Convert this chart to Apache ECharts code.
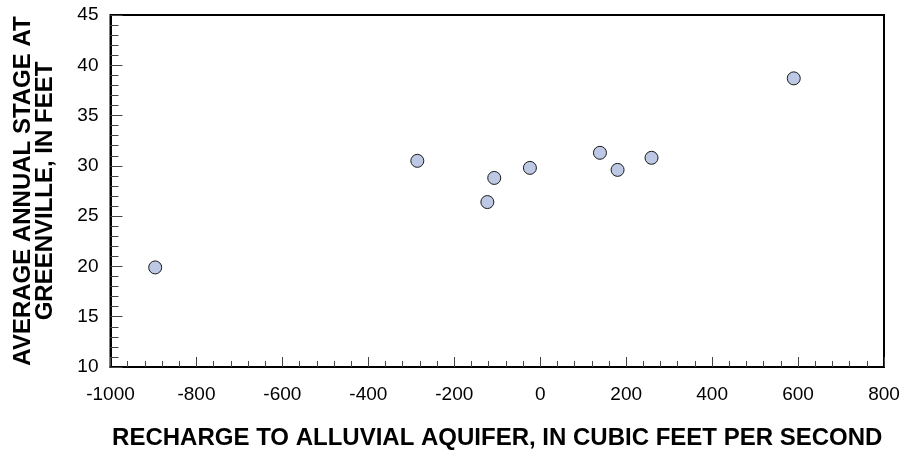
<!DOCTYPE html>
<html>
<head>
<meta charset="utf-8">
<script src="https://cdn.jsdelivr.net/npm/echarts@6/dist/echarts.min.js"></script>
<style>
html,body{margin:0;padding:0;background:#fff;}
#c{width:907px;height:455px;}
</style>
</head>
<body>
<div id="c"></div>
<script>
// Data
var rechargeCfs = [-896, -286, -107, -123, -24, 139, 180, 259, 590];
var stageFeet   = [19.9, 30.5, 28.8, 26.4, 29.8, 31.3, 29.6, 30.8, 38.7];
var xTitle = 'RECHARGE TO ALLUVIAL AQUIFER, IN CUBIC FEET PER SECOND';
var yTitleLines = ['AVERAGE ANNUAL STAGE AT', 'GREENVILLE, IN FEET'];

var FONT = '"Liberation Sans", Arial, Helvetica, sans-serif';
var points = rechargeCfs.map(function (x, i) { return [x, stageFeet[i]]; });

var chart = echarts.init(document.getElementById('c'), null, {renderer: 'canvas'});
chart.setOption({
  animation: false,
  backgroundColor: '#fff',
  grid: {
    left: 110.5, right: 23, top: 15, bottom: 86,
    show: true, borderColor: '#000', borderWidth: 2, backgroundColor: 'transparent'
  },
  xAxis: {
    type: 'value', min: -1000, max: 800, interval: 200,
    axisLine: {show: true, onZero: false, lineStyle: {color: '#000', width: 2}},
    axisTick: {show: true, inside: true, length: 10, lineStyle: {color: '#444', width: 1}},
    minorTick: {show: true, splitNumber: 5, length: 6, lineStyle: {color: '#444', width: 1}},
    splitLine: {show: false},
    axisLabel: {color: '#000', fontSize: 19, fontFamily: FONT, margin: 18,
      formatter: function (v) { return String(v); }},
    name: xTitle, nameLocation: 'middle', nameGap: 59,
    nameTextStyle: {color: '#000', fontSize: 24, fontWeight: 'bold', fontFamily: FONT}
  },
  yAxis: {
    type: 'value', min: 10, max: 45, interval: 5,
    axisLine: {show: true, onZero: false, lineStyle: {color: '#000', width: 2}},
    axisTick: {show: true, inside: true, length: 12, lineStyle: {color: '#444', width: 1}},
    minorTick: {show: true, splitNumber: 5, length: 8, lineStyle: {color: '#444', width: 1}},
    splitLine: {show: false},
    axisLabel: {color: '#000', fontSize: 19, fontFamily: FONT, margin: 12,
      formatter: function (v) { return String(v); }},
    name: yTitleLines.join('\n'), nameLocation: 'middle', nameGap: 54, nameRotate: 90,
    nameTextStyle: {color: '#000', fontSize: 24, fontWeight: 'bold', fontFamily: FONT, lineHeight: 22, align: 'center'}
  },
  series: [{
    type: 'scatter',
    data: points,
    symbol: 'circle',
    symbolSize: 13,
    itemStyle: {color: '#bcc8e4', borderColor: '#1a1a1a', borderWidth: 1, opacity: 1}
  }]
});
</script>
</body>
</html>
